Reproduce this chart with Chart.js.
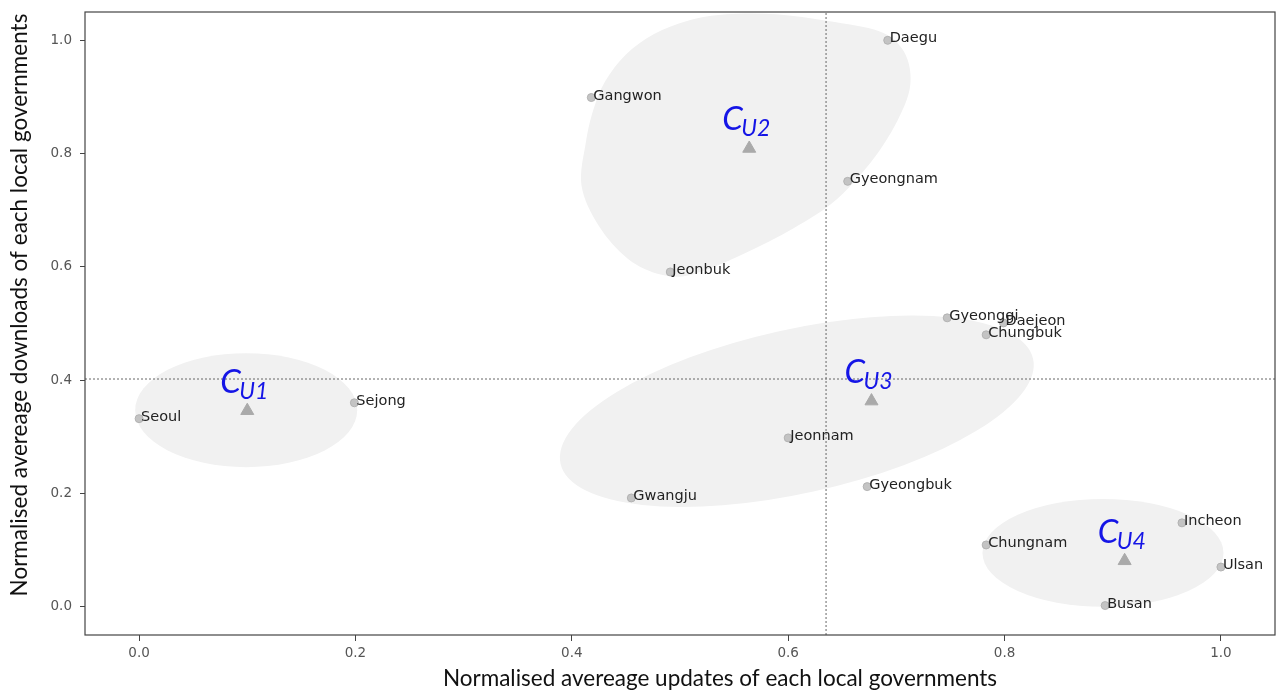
<!DOCTYPE html>
<html>
<head>
  <title>Local government clusters</title>
  <script src="https://cdn.jsdelivr.net/npm/chart.js"></script>
  <style>
    html, body {
      margin: 0;
      padding: 0;
      background: #fff;
    }
    .wrap {
      width: 1276px;
      height: 692px;
    }
  </style>
</head>
<body>
  <div class="wrap">
    <canvas id="clusterChart" width="1276" height="692"></canvas>
  </div>

  <script>
    // region points
    const regions = ['Seoul', 'Sejong', 'Gangwon', 'Daegu', 'Gyeongnam', 'Jeonbuk', 'Gyeonggi', 'Daejeon',
                     'Chungbuk', 'Jeonnam', 'Gwangju', 'Gyeongbuk', 'Chungnam', 'Incheon', 'Ulsan', 'Busan'];
    const updates   = [0.000, 0.199, 0.418, 0.692, 0.655, 0.491, 0.747, 0.799,
                       0.783, 0.600, 0.455, 0.673, 0.783, 0.964, 1.000, 0.893];
    const downloads = [0.332, 0.360, 0.899, 1.000, 0.751, 0.591, 0.510, 0.501,
                       0.480, 0.298, 0.192, 0.212, 0.109, 0.148, 0.070, 0.002];

    // cluster centroids
    const clusters  = ['U1', 'U2', 'U3', 'U4'];
    const centroidX = [0.100, 0.564, 0.677, 0.911];
    const centroidY = [0.346, 0.809, 0.363, 0.081];

    // mean lines
    const meanUpdates = 0.635;
    const meanDownloads = 0.402;

    const tickValues = [0, 0.2, 0.4, 0.6, 0.8, 1.0];

    const xTitle = 'Normalised avereage updates of each local governments';
    const yTitle = 'Normalised avereage downloads of each local governments';

    // cluster outlines: ellipses (centre + two semi-axis vectors, data units) for U1, U3, U4
    const ellipseX = [0.099, 0.608, 0.891];
    const ellipseY = [0.347, 0.345, 0.095];
    const ellipseU = [[0.1026, 0.0], [0.2184, 0.0925], [0.1114, 0.0]];
    const ellipseV = [[0.0, 0.1006], [0.0164, -0.1414], [0.0, 0.0953]];

    // cluster U2 outline, read as hull points
    const blobX = [0.409, 0.413, 0.420, 0.431, 0.450, 0.476, 0.508, 0.543, 0.589, 0.637, 0.684,
                   0.705, 0.713, 0.708, 0.684, 0.646, 0.605, 0.559, 0.512, 0.483, 0.452, 0.425];
    const blobY = [0.743, 0.820, 0.878, 0.928, 0.975, 1.011, 1.035, 1.046, 1.046, 1.034, 1.016,
                   0.986, 0.940, 0.887, 0.804, 0.721, 0.668, 0.623, 0.587, 0.586, 0.614, 0.672];

    const shapeColor = '#f1f1f1';

    const shapesPlugin = {
      id: 'clusterShapes',
      beforeDatasetsDraw(chart) {
        const { ctx, chartArea, scales: { x, y } } = chart;
        ctx.save();
        ctx.beginPath();
        ctx.rect(chartArea.left, chartArea.top, chartArea.width, chartArea.height);
        ctx.clip();
        ctx.fillStyle = shapeColor;

        ellipseX.forEach((cx, i) => {
          const cy = ellipseY[i];
          const ox = x.getPixelForValue(cx), oy = y.getPixelForValue(cy);
          const ux = x.getPixelForValue(cx + ellipseU[i][0]) - ox;
          const uy = y.getPixelForValue(cy + ellipseU[i][1]) - oy;
          const vx = x.getPixelForValue(cx + ellipseV[i][0]) - ox;
          const vy = y.getPixelForValue(cy + ellipseV[i][1]) - oy;
          ctx.save();
          ctx.transform(ux, uy, vx, vy, ox, oy);
          ctx.beginPath();
          ctx.arc(0, 0, 1, 0, Math.PI * 2);
          ctx.restore();
          ctx.fill();
        });

        // closed smooth curve through the hull points
        const pts = blobX.map((bx, i) => [x.getPixelForValue(bx), y.getPixelForValue(blobY[i])]);
        const n = pts.length;
        ctx.beginPath();
        ctx.moveTo(pts[0][0], pts[0][1]);
        for (let i = 0; i < n; i++) {
          const p0 = pts[(i - 1 + n) % n], p1 = pts[i], p2 = pts[(i + 1) % n], p3 = pts[(i + 2) % n];
          ctx.bezierCurveTo(
            p1[0] + (p2[0] - p0[0]) / 6, p1[1] + (p2[1] - p0[1]) / 6,
            p2[0] - (p3[0] - p1[0]) / 6, p2[1] - (p3[1] - p1[1]) / 6,
            p2[0], p2[1]);
        }
        ctx.closePath();
        ctx.fill();
        ctx.restore();
      }
    };

    const labelsPlugin = {
      id: 'pointLabels',
      afterDatasetsDraw(chart) {
        const { ctx, scales: { x, y } } = chart;
        ctx.save();
        ctx.textAlign = 'left';
        ctx.textBaseline = 'alphabetic';

        ctx.fillStyle = '#222';
        ctx.font = '14.5px "DejaVu Sans"';
        regions.forEach((name, i) => {
          const px = x.getPixelForValue(updates[i]);
          const py = y.getPixelForValue(downloads[i]);
          ctx.fillText(name, px + 2, py + 2);
        });

        ctx.fillStyle = '#1515e6';
        clusters.forEach((name, i) => {
          const px = x.getPixelForValue(centroidX[i]);
          const py = y.getPixelForValue(centroidY[i]);
          ctx.font = 'italic 33px Lato';
          ctx.fillText('C', px - 27, py - 18);
          ctx.font = 'italic 23px Lato';
          ctx.fillText(name, px - 8, py - 12);
        });
        ctx.restore();
      },
      afterDraw(chart) {
        const { ctx, chartArea } = chart;
        ctx.save();
        ctx.strokeStyle = '#444';
        ctx.lineWidth = 1.2;
        ctx.strokeRect(chartArea.left, chartArea.top, chartArea.width, chartArea.height);

        // axis titles
        ctx.fillStyle = '#111';
        ctx.font = '22.5px Lato';
        ctx.textAlign = 'center';
        ctx.textBaseline = 'middle';
        ctx.fillText(xTitle, 720, 679);
        ctx.translate(20, 305);
        ctx.rotate(-Math.PI / 2);
        ctx.fillText(yTitle, 0, 0);
        ctx.restore();
      }
    };

    const ctx = document.getElementById('clusterChart').getContext('2d');
    const chart = new Chart(ctx, {
      type: 'scatter',
      data: {
        datasets: [
          {
            label: 'Regions',
            data: regions.map((r, i) => ({ x: updates[i], y: downloads[i] })),
            backgroundColor: 'rgba(190,190,190,0.9)',
            borderColor: 'rgba(175,175,175,0.9)',
            pointRadius: 4
          },
          {
            label: 'Centroids',
            data: clusters.map((c, i) => ({ x: centroidX[i], y: centroidY[i] })),
            pointStyle: 'triangle',
            backgroundColor: '#aaaaaa',
            borderColor: '#aaaaaa',
            pointRadius: 7.5
          },
          {
            label: 'Mean updates',
            data: [{ x: meanUpdates, y: -0.05 }, { x: meanUpdates, y: 1.05 }],
            showLine: true,
            borderColor: '#666',
            borderWidth: 1,
            borderDash: [2, 2],
            pointRadius: 0
          },
          {
            label: 'Mean downloads',
            data: [{ x: -0.05, y: meanDownloads }, { x: 1.05, y: meanDownloads }],
            showLine: true,
            borderColor: '#666',
            borderWidth: 1,
            borderDash: [2, 2],
            pointRadius: 0
          }
        ]
      },
      options: {
        responsive: false,
        animation: false,
        layout: {
          autoPadding: false,
          padding: { top: 12, right: 1, left: 0, bottom: 0 }
        },
        plugins: {
          legend: { display: false },
          tooltip: { enabled: false }
        },
        scales: {
          x: {
            type: 'linear',
            min: -0.05,
            max: 1.05,
            afterBuildTicks: scale => { scale.ticks = tickValues.map(v => ({ value: v })); },
            afterFit: scale => {
              scale.height = 57;
              scale.paddingLeft = 0;
              scale.paddingRight = 0;
            },
            border: { display: false },
            grid: { drawOnChartArea: false, drawTicks: true, tickLength: 6, color: '#444' },
            ticks: {
              padding: 4,
              color: '#555',
              font: { family: 'DejaVu Sans', size: 13.5 },
              maxRotation: 0,
              callback: v => v.toFixed(1)
            }
          },
          y: {
            type: 'linear',
            min: -0.05,
            max: 1.05,
            afterBuildTicks: scale => { scale.ticks = tickValues.map(v => ({ value: v })); },
            afterFit: scale => {
              scale.width = 85;
              scale.paddingTop = 0;
              scale.paddingBottom = 0;
            },
            border: { display: false },
            grid: { drawOnChartArea: false, drawTicks: true, tickLength: 5, color: '#444' },
            ticks: {
              padding: 8,
              color: '#555',
              font: { family: 'DejaVu Sans', size: 13.5 },
              callback: v => v.toFixed(1)
            }
          }
        }
      },
      plugins: [shapesPlugin, labelsPlugin]
    });
  </script>
</body>
</html>
